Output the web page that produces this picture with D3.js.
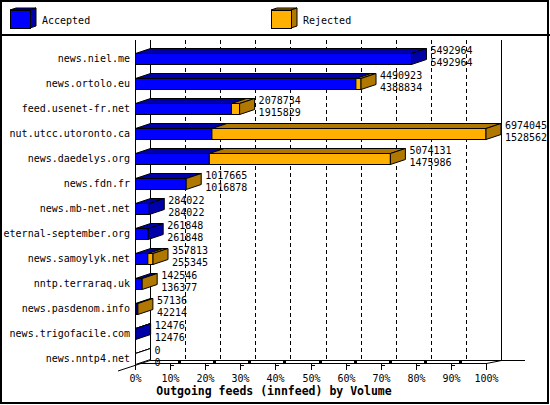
<!DOCTYPE html>
<html><head><meta charset="utf-8">
<script src="https://cdn.jsdelivr.net/npm/d3@7"></script>
<style>
html,body{margin:0;padding:0;background:#fff;}
svg{display:block;}
text{font-family:"DejaVu Sans Mono",monospace;font-size:10px;fill:#000;}
</style></head>
<body>
<script>
const categories = ["news.niel.me","news.ortolo.eu","feed.usenet-fr.net","nut.utcc.utoronto.ca","news.daedelys.org","news.fdn.fr","news.mb-net.net","eternal-september.org","news.samoylyk.net","nntp.terraraq.uk","news.pasdenom.info","news.trigofacile.com","news.nntp4.net"];
const offered  = [5492964,4490923,2078734,6974045,5074131,1017665,284022,261848,357813,142546,57136,12476,0];
const accepted = [5492964,4388834,1915829,1528562,1475986,1016878,284022,261848,255345,136377,42214,12476,0];
const tickLabels = ["0%","10%","20%","30%","40%","50%","60%","70%","80%","90%","100%"];
const seriesNames = ["Accepted","Rejected"];

const W = 550, H = 405;
const BLUE = "#0000ff", BLUE_D = "#0000aa", ORANGE = "#ffb000", ORANGE_D = "#b07800";
const DX = 15, DY = -5;
const X0 = 135, X1 = 486;

const svg = d3.select("body").append("svg").attr("width", W).attr("height", H)
  .attr("shape-rendering", "crispEdges");

// outer border
svg.append("rect").attr("x",1).attr("y",1).attr("width",W-3).attr("height",H-3)
  .attr("fill","none").attr("stroke","#000").attr("stroke-width",2);
svg.append("line").attr("x1",0).attr("x2",W).attr("y1",35).attr("y2",35)
  .attr("stroke","#000").attr("stroke-width",2);

// legend
const legendColors = [[BLUE, BLUE_D],[ORANGE, ORANGE_D]];
const legendX = [10, 271];
seriesNames.forEach((name,i)=>{
  const lx = legendX[i], ly = 10, w = 20, h = 18, ox = 6, oy = -2;
  const g = svg.append("g").attr("shape-rendering","auto");
  g.append("polygon").attr("points",[[lx,ly],[lx+ox,ly+oy],[lx+w+ox,ly+oy],[lx+w,ly]].join(" "))
    .attr("fill",legendColors[i][1]).attr("stroke","#000");
  g.append("polygon").attr("points",[[lx+w,ly],[lx+w+ox,ly+oy],[lx+w+ox,ly+h+oy],[lx+w,ly+h]].join(" "))
    .attr("fill",legendColors[i][1]).attr("stroke","#000");
  g.append("rect").attr("x",lx+0.5).attr("y",ly+0.5).attr("width",w).attr("height",h)
    .attr("fill",legendColors[i][0]).attr("stroke","#000");
  svg.append("text").attr("x",lx+32).attr("y",24).text(name);
});

// scales
const x = d3.scaleLinear().domain([0, d3.max(offered)]).range([X0, X1]);
const xp = d3.scaleLinear().domain([0, 100]).range([X0, X1]);
const y = d3.scaleBand().domain(categories).range([40, 365]).padding(0);

// back wall gridlines
const gridVals = d3.range(10, 100, 10);
svg.append("g").selectAll("line").data(gridVals).join("line")
  .attr("x1",d=>Math.round(xp(d)+DX)+0.5).attr("x2",d=>Math.round(xp(d)+DX)+0.5)
  .attr("y1",40).attr("y2",360)
  .attr("stroke","#000").attr("stroke-dasharray","4,3");
// back wall left & right
svg.append("line").attr("x1",X0+DX+0.5).attr("x2",X0+DX+0.5).attr("y1",40).attr("y2",360).attr("stroke","#000");
svg.append("line").attr("x1",X1+DX+0.5).attr("x2",X1+DX+0.5).attr("y1",40).attr("y2",360.5).attr("stroke","#000");
// floor back line
svg.append("line").attr("x1",X0+DX).attr("x2",525).attr("y1",360.5).attr("y2",360.5).attr("stroke","#000");
// y axis front
svg.append("line").attr("x1",X0+0.5).attr("x2",X0+0.5).attr("y1",40).attr("y2",364).attr("stroke","#000");
// floor front line
svg.append("line").attr("x1",X0).attr("x2",X1+1).attr("y1",363.5).attr("y2",363.5).attr("stroke","#000");
svg.append("line").attr("x1",X1+0.5).attr("y1",363.5).attr("x2",X1+DX+0.5).attr("y2",360.5).attr("stroke","#000").attr("shape-rendering","auto");
svg.append("line").attr("x1",118).attr("y1",371).attr("x2",X0+DX).attr("y2",360.5).attr("stroke","#000").attr("shape-rendering","auto");

// ticks
const ticksG = svg.append("g");
tickLabels.forEach((t,i)=>{
  const tx = Math.round(xp(i*10))+0.5;
  ticksG.append("line").attr("x1",tx).attr("x2",tx).attr("y1",364).attr("y2",370).attr("stroke","#000");
  if(i>0 && i<10){
    ticksG.append("line").attr("x1",tx).attr("x2",tx+3).attr("y1",365.5).attr("y2",365.5).attr("stroke","#000");
    ticksG.append("rect").attr("x",tx+7.5).attr("y",360.5).attr("width",3).attr("height",3).attr("fill","#000");
  }
  ticksG.append("text").attr("x",tx).attr("y",382).attr("text-anchor","middle").text(t);
});

// axis title
svg.append("text").attr("x",274).attr("y",395).attr("text-anchor","middle")
  .style("font-weight","bold").style("font-size","11.5px")
  .text("Outgoing feeds (innfeed) by Volume");

// bars
const rows = categories.map((c,i)=>({c, off: offered[i], acc: accepted[i]}));
const barsG = svg.append("g").attr("shape-rendering","auto");
rows.forEach(r=>{
  const yT = y(r.c) + 13 + 0.5, yB = yT + 11;
  const xA = x(r.acc), xT = x(r.off);
  const g = barsG.append("g");
  const poly = (pts, fill) => g.append("polygon").attr("points", pts.map(p=>p.join(",")).join(" "))
      .attr("fill", fill).attr("stroke","#000").attr("stroke-width",1).attr("stroke-linejoin","miter");
  const xs = X0 + 0.5;
  // top faces
  if (xA > xs) poly([[xs,yT],[xA,yT],[xA+DX,yT+DY],[xs+DX,yT+DY]], BLUE_D);
  if (xT > xA) poly([[xA,yT],[xT,yT],[xT+DX,yT+DY],[xA+DX,yT+DY]], ORANGE_D);
  // front faces
  if (xA > xs) poly([[xs,yT],[xA,yT],[xA,yB],[xs,yB]], BLUE);
  if (xT > xA + 0.3) poly([[xA,yT],[xT,yT],[xT,yB],[xA,yB]], ORANGE);
  // side face
  const sideFill = r.off === 0 ? "#fff" : (r.off > r.acc ? ORANGE_D : BLUE_D);
  const xe = Math.max(xT, xs);
  if (r.off === 0) poly([[xs,yT],[xs+DX,yT+DY]], "none");
  poly([[xe,yT],[xe+DX,yT+DY],[xe+DX,yB+DY],[xe,yB]], sideFill);
  // value labels
  svg.append("text").attr("x", xe+DX+4).attr("y", yT+0.5).text(r.off);
  svg.append("text").attr("x", xe+DX+4).attr("y", yB+1).text(r.acc);
});

// category labels
svg.append("g").selectAll("text").data(categories).join("text")
  .attr("x",130).attr("y",d=>y(d)+22).attr("text-anchor","end").text(d=>d);
</script>
</body></html>
